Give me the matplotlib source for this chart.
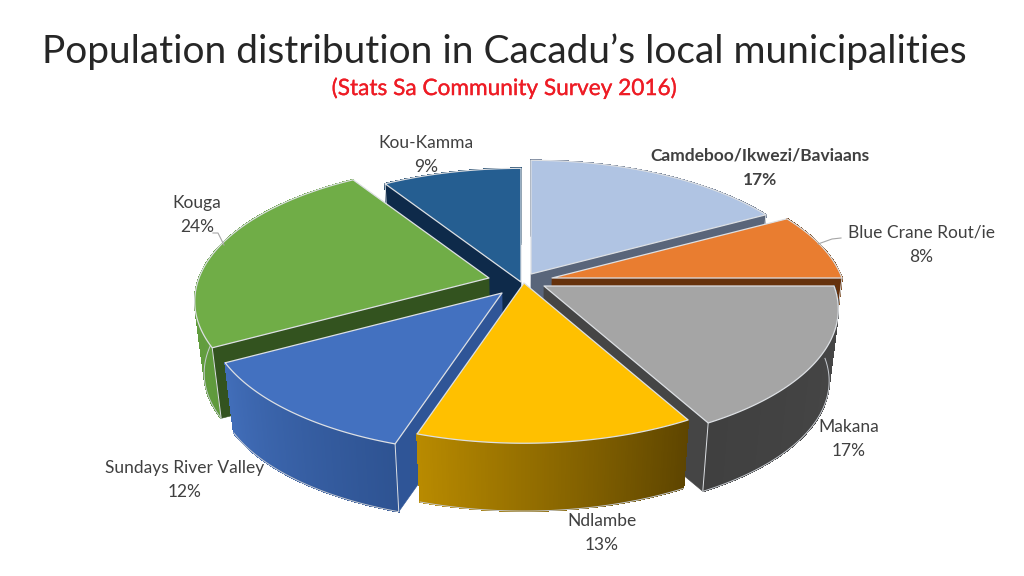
import numpy as np
import matplotlib
matplotlib.use("Agg")
import matplotlib.pyplot as plt
from matplotlib.collections import PolyCollection
from matplotlib.patches import Polygon
from matplotlib.colors import to_rgb
import matplotlib.patheffects as pe

# data
categories = ["Camdeboo/Ikwezi/Baviaans", "Blue Crane Rout/ie", "Makana", "Ndlambe",
              "Sundays River Valley", "Kouga", "Kou-Kamma"]
shares = [17, 8, 17, 13, 12, 24, 9]

# style
top_colors = ["#B0C4E3", "#E97D30", "#A5A5A5", "#FFC000", "#4371C0", "#70AD47", "#255E91"]
wall_start = ["#6A7890", "#6B3A10", "#484848", "#5E4500", "#2E5392", "#5F9A3C", "#1B4569"]
wall_end = ["#6A7890", "#7A4415", "#404040", "#B88A00", "#416DB8", "#6AA544", "#1B4569"]
radial_colors = ["#59657A", "#66320D", "#454545", "#6A4E00", "#2F5597", "#33531F", "#0E2A4A"]
explode_px = [(9, -9), (30, -5), (22, 3), (2, 0), (-20, 10), (-33, -5), (-1, -1)]
draw_order = [6, 0, 5, 1, 4, 2, 3]
label_px = [(760, 168), (921, 245), (849, 439), (602, 533), (185, 480), (197, 215), (426, 155)]
CENTER = (522, 283)
R, RY, K = 290, 133, 0.17
VANISH_Y, SHRINK = 2790, 0.9711
EDGE = "#DDE0E4"

plt.rcParams["font.family"] = ["Lato", "DejaVu Sans"]
fig = plt.figure(figsize=(10.24, 5.76), dpi=100, facecolor="white")
ax = fig.add_axes([0, 0, 1, 1])
ax.set_xlim(0, 1024)
ax.set_ylim(576, 0)
ax.axis("off")


def rim(t):
    u, v = np.sin(t), np.cos(t)
    d = 1 + K * v
    return np.column_stack([R * u / d, -RY * v / d])


def drop(pts):
    out = np.array(pts, dtype=float)
    out[:, 0] = CENTER[0] + SHRINK * (out[:, 0] - CENTER[0])
    out[:, 1] = VANISH_Y + SHRINK * (out[:, 1] - VANISH_Y)
    return out


edges = np.radians(np.concatenate([[0], np.cumsum(shares)]) * 3.6)

for i in draw_order:
    z = draw_order.index(i) * 3
    t = np.linspace(edges[i], edges[i + 1], 120)
    apex = np.array([CENTER[0] + explode_px[i][0], CENTER[1] + explode_px[i][1]], dtype=float)
    arc = apex + rim(t)
    arc_b = drop(arc)
    apex_b = drop(apex[None, :])[0]
    # outer wall with gradient
    quads = [[arc[j], arc[j + 1], arc_b[j + 1], arc_b[j]] for j in range(len(arc) - 1)]
    c0, c1 = np.array(to_rgb(wall_start[i])), np.array(to_rgb(wall_end[i]))
    cols = [c0 + (c1 - c0) * f for f in np.linspace(0, 1, len(quads))]
    ax.add_collection(PolyCollection(quads, facecolors=cols, edgecolors=cols, linewidths=0.6,
                                     antialiaseds=False, zorder=z + 1))
    ax.plot(arc_b[:, 0], arc_b[:, 1], color="#C8CCD2", lw=0.7, zorder=z + 1.5)
    # camera-facing radial walls
    if np.sin(t[0]) < -1e-6:
        a, b = arc[0], arc_b[0]
        ax.add_patch(Polygon([apex, a, b, apex_b], closed=True, fc=radial_colors[i], ec=radial_colors[i],
                             lw=0.4, zorder=z + 2))
        ax.plot([a[0], b[0]], [a[1], b[1]], color=EDGE, lw=0.7, zorder=z + 2.5)
    if np.sin(t[-1]) > 1e-6:
        a, b = arc[-1], arc_b[-1]
        ax.add_patch(Polygon([apex, a, b, apex_b], closed=True, fc=radial_colors[i], ec=radial_colors[i],
                             lw=0.4, zorder=z + 2))
        ax.plot([a[0], b[0]], [a[1], b[1]], color=EDGE, lw=0.7, zorder=z + 2.5)
    # top face
    ax.add_patch(Polygon(np.vstack([apex, arc]), closed=True, fc=top_colors[i], ec=EDGE, lw=0.9,
                         joinstyle="round", zorder=z + 3))

# labels
for i, (name, val, pos) in enumerate(zip(categories, shares, label_px)):
    ax.text(pos[0], pos[1], f"{name}\n{val}%", ha="center", va="center", fontsize=12.5,
            color="#404040", linespacing=1.66, fontweight="bold" if i == 0 else "normal", zorder=40)

# leader lines
ax.plot([213, 218, 224], [233, 233, 245], color="#A6A6A6", lw=0.8, zorder=40)
ax.plot([841, 832, 818], [238, 239, 244], color="#A6A6A6", lw=0.8, zorder=40)

# titles
ax.text(504.5, 52, "Population distribution in Cacadu\u2019s local municipalities", ha="center", va="center",
        fontsize=28, color="#262626", zorder=41)
ax.text(504, 88, "(Stats Sa Community Survey 2016)", ha="center", va="center", fontsize=16.3,
        color="#EE1C25", zorder=41, path_effects=[pe.withStroke(linewidth=0.2, foreground="#EE1C25")])

fig.savefig("out.png", dpi=100)
